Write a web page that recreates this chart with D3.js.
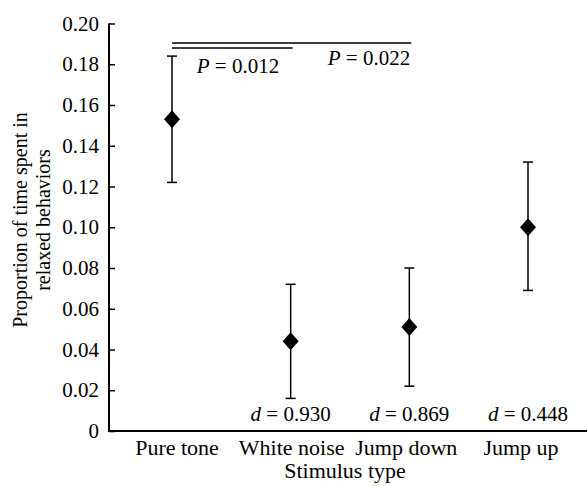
<!DOCTYPE html>
<html><head><meta charset="utf-8">
<script src="https://cdn.jsdelivr.net/npm/d3@7"></script>
<style>body{margin:0;background:#fff}svg{display:block}svg text{font-family:"Liberation Serif",serif !important;fill:#000}</style>
</head><body><div id="c"></div>
<script>
const categories = ["Pure tone","White noise","Jump down","Jump up"];
const means = [0.153, 0.044, 0.051, 0.100];
const lower = [0.122, 0.016, 0.022, 0.069];
const upper = [0.184, 0.072, 0.080, 0.132];
const dLabels = ["", "0.930", "0.869", "0.448"];
const yTicks = [0,0.02,0.04,0.06,0.08,0.10,0.12,0.14,0.16,0.18,0.20];
const comparisons = [{from:0,to:2,p:"0.022"},{from:0,to:1,p:"0.012"}];

const W=587,H=486;
const FF='"Liberation Serif", serif';
const svg=d3.select("#c").append("svg").attr("width",W).attr("height",H).style("font-family",FF);
const x=d3.scalePoint().domain(categories).range([172,528]);
const xl=d3.scalePoint().domain(categories).range([177,521]);
const y=d3.scaleLinear().domain([0,0.2]).range([431,23.5]);
const fs=21;

// y axis
const ya=d3.axisLeft(y).tickValues(yTicks).tickSize(-6).tickPadding(10)
  .tickFormat(d=>d===0?"0":d3.format(".2f")(d));
const gy=svg.append("g").attr("transform","translate(109,0)").call(ya).attr("font-family",FF).attr("font-size",fs);
gy.select(".domain").attr("stroke","#000").attr("stroke-width",2).attr("d","M0,23.5V431");
gy.selectAll(".tick line").attr("stroke","#000").attr("stroke-width",1.5);
gy.selectAll(".tick text").style("font-size",fs+"px").style("font-family",FF).attr("fill","#000");

// x axis
svg.append("line").attr("x1",108).attr("x2",587).attr("y1",y(0)).attr("y2",y(0)).attr("stroke","#000").attr("stroke-width",2);
svg.append("g").selectAll("text").data(categories).join("text")
  .attr("x",d=>xl(d)).attr("y",455).attr("text-anchor","middle").style("font-size","22px").style("font-family",FF).text(d=>d);
svg.append("text").attr("x",345).attr("y",478).attr("text-anchor","middle").style("font-size","22px").style("font-family",FF).text("Stimulus type");

// y title
const yt=svg.append("text").attr("transform","translate(0,220) rotate(-90)").attr("text-anchor","middle").style("font-size","20px").style("font-family",FF);
yt.append("tspan").attr("x",0).attr("y",27).text("Proportion of time spent in");
yt.append("tspan").attr("x",0).attr("y",50).text("relaxed behaviors");

// error bars
const g=svg.append("g");
categories.forEach((c,i)=>{
  const cx=x(c);
  g.append("line").attr("x1",cx).attr("x2",cx).attr("y1",y(lower[i])).attr("y2",y(upper[i])).attr("stroke","#000").attr("stroke-width",1.5);
  [lower[i],upper[i]].forEach(v=>g.append("line").attr("x1",cx-5).attr("x2",cx+5).attr("y1",y(v)).attr("y2",y(v)).attr("stroke","#000").attr("stroke-width",1.5));
  g.append("path").attr("d",`M${cx},${y(means[i])-9}L${cx+8},${y(means[i])}L${cx},${y(means[i])+9}L${cx-8},${y(means[i])}Z`).attr("fill","#000");
  if(dLabels[i]){
    const t=g.append("text").attr("x",cx).attr("y",421).attr("text-anchor","middle").style("font-size",fs+"px").style("font-family",FF);
    t.append("tspan").attr("font-style","italic").text("d");
    t.append("tspan").text(" = "+dLabels[i]);
  }
});

// comparison brackets
const bY=[43,48];
comparisons.forEach((cmp,k)=>{
  svg.append("line").attr("x1",x(categories[cmp.from])).attr("x2",x(categories[cmp.to])+2)
    .attr("y1",bY[k]).attr("y2",bY[k]).attr("stroke","#000").attr("stroke-width",1.5);
});
const p1=svg.append("text").attr("x",369).attr("y",65).attr("text-anchor","middle").style("font-size",fs+"px").style("font-family",FF);
p1.append("tspan").attr("font-style","italic").text("P");p1.append("tspan").text(" = "+comparisons[0].p);
const p2=svg.append("text").attr("x",238).attr("y",73).attr("text-anchor","middle").style("font-size",fs+"px").style("font-family",FF);
p2.append("tspan").attr("font-style","italic").text("P");p2.append("tspan").text(" = "+comparisons[1].p);
</script></body></html>
